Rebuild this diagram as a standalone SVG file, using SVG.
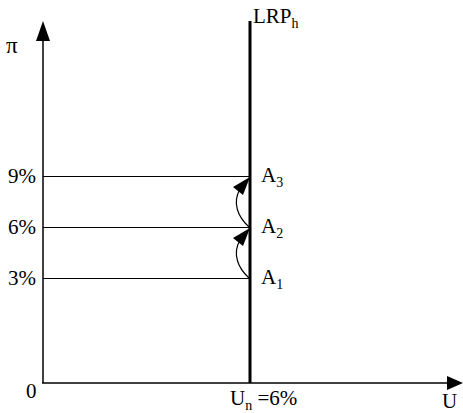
<svg xmlns="http://www.w3.org/2000/svg" width="463" height="413" viewBox="0 0 463 413">
<style>
text{font-family:"Liberation Serif","Times New Roman",serif;fill:#000;font-size:21px}
.ax{stroke:#000;stroke-width:1.5;fill:none}
.h{stroke:#000;stroke-width:1.2;fill:none}
.c{stroke:#000;stroke-width:1.2;fill:none}
.sub{font-size:14px}
</style>
<rect width="463" height="413" fill="#fff"/>
<g id="axes">
<line class="ax" x1="43" y1="36" x2="43" y2="383"/>
<polygon points="43,21 36,41 50,41" fill="#000"/>
<line class="ax" x1="42" y1="383" x2="448" y2="383"/>
<polygon points="463,383 447,376 447,390" fill="#000"/>
<text x="6" y="53" style="font-size:23px">π</text>
<text x="26" y="398">0</text>
<text x="442" y="408">U</text>
</g>
<g id="LRP">
<line x1="250" y1="21" x2="250" y2="383" stroke="#000" stroke-width="3"/>
<text x="253" y="23">LRP<tspan class="sub" dy="5">h</tspan></text>
<text x="230" y="405">U<tspan class="sub" dy="5">n</tspan><tspan dy="-5"> =6%</tspan></text>
</g>
<g id="levels">
<line class="h" x1="43" y1="176.5" x2="250" y2="176.5"/>
<line class="h" x1="43" y1="227.5" x2="250" y2="227.5"/>
<line class="h" x1="43" y1="278.5" x2="250" y2="278.5"/>
<text x="8" y="183">9%</text>
<text x="8" y="234">6%</text>
<text x="8" y="285">3%</text>
</g>
<g id="A1"><text x="261" y="284">A<tspan class="sub" dy="5">1</tspan></text></g>
<g id="A2"><text x="261" y="233">A<tspan class="sub" dy="5">2</tspan></text></g>
<g id="A3"><text x="261" y="182">A<tspan class="sub" dy="5">3</tspan></text></g>
<g id="connectors">
<path class="c" d="M249,278 C238,268 232,254 240,240"/>
<polygon points="250,228 233,238 243,246" fill="#000"/>
<path class="c" d="M249,227 C238,217 232,203 240,189"/>
<polygon points="250,177 233,187 243,195" fill="#000"/>
</g>
</svg>
